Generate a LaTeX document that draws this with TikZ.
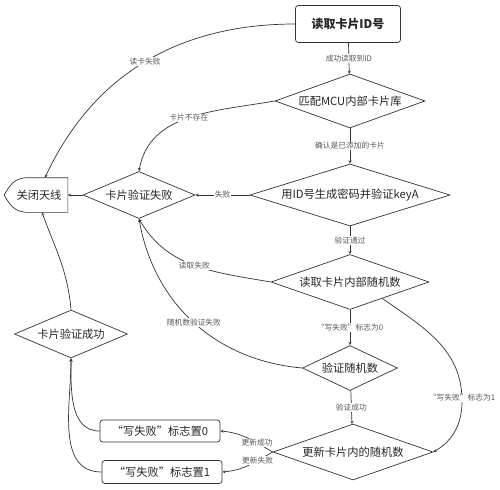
\documentclass[tikz,border=0pt]{standalone}
\usepackage{fontspec}
\setmainfont{Noto Sans CJK SC}
\usepackage{xcolor}
\usetikzlibrary{
    arrows,
    arrows.meta,
    shapes,
    positioning,
    calc
}

\begin{document}
\begin{tikzpicture}[x=0.5mm, y=-0.5mm, >=stealth, line width=1pt, draw=black!80,
                flow-box/.style={rectangle, draw=black!80, rounded corners, text centered, inner sep=0pt, text=black!85, font=\fontsize{16}{18}\selectfont},
                flow-choice/.style={diamond, draw=black!80, aspect=2.5, inner sep=0pt, text centered, text=black!85, font=\fontsize{16}{18}\selectfont},
                edge-text/.style={fill=white, inner sep=1pt, text=black!65, font=\fontsize{11}{12}\selectfont}]
                \useasboundingbox (0,0) rectangle (500,489);
                % main column
                \node [flow-box, minimum width=52.5mm, minimum height=18.5mm, font=\bfseries\fontsize{17}{20}\selectfont] (readID) at (348,24) {读取卡片ID号};
                \node [flow-choice, minimum width=75mm, minimum height=27mm] (match) at (350,101) {匹配MCU内部卡片库};
                \node [flow-choice, aspect=4, minimum width=100mm, minimum height=31mm] (keyA) at (350,195) {用ID号生成密码并验证keyA};
                \node [flow-choice, minimum width=79mm, minimum height=27.5mm] (readRand) at (350,282) {读取卡片内部随机数};
                \node [flow-choice, minimum width=47.5mm, minimum height=22.5mm] (checkRand) at (350,368) {验证随机数};
                \node [flow-choice, minimum width=80mm, minimum height=28mm] (update) at (353,452) {更新卡片内的随机数};
                % left side
                \node [flow-choice, minimum width=56mm, minimum height=23.5mm] (verifyFail) at (139,195) {卡片验证失败};
                \node [flow-choice, minimum width=56.5mm, minimum height=24mm] (verifyOK) at (71,334) {卡片验证成功};
                \node [flow-box, minimum width=60mm, minimum height=11mm] (flagZero) at (160,431) {“写失败”标志置0};
                \node [flow-box, minimum width=60mm, minimum height=11.5mm] (flagOne) at (162,472) {“写失败”标志置1};
                \node [inner sep=0pt, minimum width=31.5mm, minimum height=17mm, text=black!85, font=\fontsize{16}{18}\selectfont] (antenna) at (36,195) {\hspace{3mm}关闭天线};
                \draw (antenna.north east) -- (antenna.south east) -- ($(antenna.south west)+(22,0)$) to [out=175, in=-60, looseness=1.1] (antenna.west) to [out=60, in=185, looseness=1.1] ($(antenna.north west)+(22,0)$) -- cycle;
                % straight arrows
                \draw [->] (readID) -- node [edge-text] {成功读取到ID} (match);
                \draw [->] (match) -- node [edge-text] {确认是已添加的卡片} (keyA);
                \draw [->] (keyA) -- node [edge-text] {验证通过} (readRand);
                \draw [->] (readRand) -- node [edge-text] {“写失败”标志为0} (checkRand);
                \draw [->] (checkRand) -- node [edge-text] {验证成功} (update);
                \draw [->] (keyA) -- node [edge-text] {失败} (verifyFail);
                \draw [->] (verifyFail) -- (antenna);
                % curved arrows
                \draw [->] (readID.west) to [out=180, in=65] node [edge-text] {读卡失败} ([xshift=4.5mm]antenna.north);
                \draw [->] (match.west) to [out=190, in=80] node [edge-text] {卡片不存在} (verifyFail.north);
                \draw [->] (readRand.west) to [out=170, in=-60] node [edge-text] {读取失败} (verifyFail.south);
                \draw [->] (checkRand.west) to [out=175, in=-80] node [edge-text] {随机数验证失败} (verifyFail.south);
                \draw [->] (verifyOK.north) to [out=95, in=-70] ([xshift=3mm]antenna.south);
                \draw [->] (flagZero.west) to [out=180, in=-90] (verifyOK.south);
                \draw [->] (flagOne.west) to [out=180, in=-90] (verifyOK.south);
                \draw [->] (update.west) to [out=150, in=-5] node [edge-text, pos=0.3] {更新成功} (flagZero.east);
                \draw [->] (update.west) to [out=210, in=5] node [edge-text, pos=0.3] {更新失败} (flagOne.east);
                \coordinate (flagBend) at (462,398);
                \draw [->] (readRand.-27) to [out=-35, in=92] (flagBend) to [out=-88, in=30] (update.east);
                \node [edge-text] (flagOneText) at (flagBend) {“写失败”标志为1};
\end{tikzpicture}
\end{document}
